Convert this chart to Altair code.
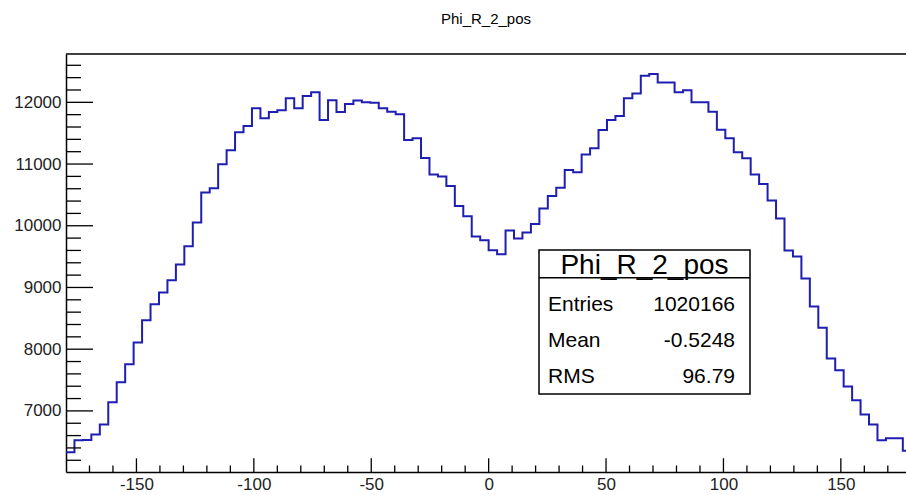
import altair as alt
import pandas as pd

# ---------------- data ----------------
hist_title = "Phi_R_2_pos"
x_lo, x_hi = -180.0, 180.0
n_bins = 100
counts = [
    6330, 6524, 6530, 6618, 6780, 7140, 7465, 7755, 8108, 8468,
    8727, 8919, 9116, 9373, 9667, 10054, 10540, 10608, 10997, 11224,
    11515, 11616, 11902, 11740, 11842, 11872, 12064, 11902, 12102, 12165,
    11713, 12032, 11845, 11972, 12030, 12000, 11995, 11902, 11848, 11808,
    11389, 11416, 11096, 10829, 10800, 10643, 10319, 10156, 9827, 9767,
    9605, 9540, 9924, 9794, 9892, 10027, 10281, 10481, 10616, 10902,
    10865, 11156, 11254, 11551, 11713, 11778, 12064, 12145, 12430, 12457,
    12320, 12320, 12165, 12195, 12000, 12000, 11848, 11556, 11416, 11192,
    11092, 10832, 10675, 10410, 10119, 9600, 9502, 9146, 8690, 8346,
    7848, 7659, 7395, 7173, 6940, 6778, 6524, 6556, 6556, 6356,
]
x_label_values = [-150, -100, -50, 0, 50, 100, 150]
x_minor_values = [-170, -160, -140, -130, -120, -110, -90, -80, -70, -60,
                  -40, -30, -20, -10, 10, 20, 30, 40, 60, 70, 80, 90,
                  110, 120, 130, 140, 160, 170]
y_label_values = [7000, 8000, 9000, 10000, 11000, 12000]
y_minor_values = [6200, 6400, 6600, 6800, 7200, 7400, 7600, 7800, 8200, 8400,
                  8600, 8800, 9200, 9400, 9600, 9800, 10200, 10400, 10600,
                  10800, 11200, 11400, 11600, 11800, 12200, 12400, 12600]
stats_labels = ["Entries", "Mean", "RMS"]
stats_values = ["1020166", "-0.5248", "96.79"]

bin_w = (x_hi - x_lo) / n_bins
edges = [x_lo + i * bin_w for i in range(n_bins + 1)]
hist = pd.DataFrame({"x": edges, "y": counts + [counts[-1]]})

# ---------------- layout ----------------
W, H = 840, 418
FONT = "Liberation Sans"
LINE_COLOR = "#1e1eb0"
LABEL_COLOR = "#222222"
x_scale = alt.Scale(domain=[-180, 177.75], nice=False, zero=False)
y_scale = alt.Scale(domain=[6010, 12783], nice=False, zero=False)

x_axis = alt.Axis(
    values=x_label_values, labelExpr="'' + datum.value", ticks=False,
    domain=True, domainColor="black", domainWidth=1.5, grid=False,
    title=None, labelFontSize=17, labelFont=FONT, labelColor=LABEL_COLOR,
    labelPadding=4, labelOverlap=False, labelFlush=False)
y_axis = alt.Axis(
    values=y_label_values, labelExpr="'' + datum.value", ticks=False,
    domain=True, domainColor="black", domainWidth=1.5, grid=False,
    title=None, labelFontSize=17, labelFont=FONT, labelColor=LABEL_COLOR,
    labelPadding=5, labelOverlap=False)

line = alt.Chart(hist).mark_line(
    interpolate="step-after", color=LINE_COLOR, strokeWidth=2, clip=True
).encode(
    x=alt.X("x:Q", scale=x_scale, axis=x_axis, title=None),
    y=alt.Y("y:Q", scale=y_scale, axis=y_axis, title=None),
)

def yticks(vals, length):
    return alt.Chart(pd.DataFrame({"y": vals})).mark_rule(
        color="black", strokeWidth=1.3).encode(
        y=alt.Y("y:Q", scale=y_scale, axis=y_axis, title=None),
        x=alt.value(0), x2=alt.value(length))

def xticks(vals, length):
    return alt.Chart(pd.DataFrame({"x": vals})).mark_rule(
        color="black", strokeWidth=1.3).encode(
        x=alt.X("x:Q", scale=x_scale, axis=x_axis, title=None),
        y=alt.value(H), y2=alt.value(H - length))

one = pd.DataFrame({"a": [0]})
top_frame = alt.Chart(one).mark_rule(color="black", strokeWidth=1.5).encode(
    x=alt.value(0), x2=alt.value(W), y=alt.value(0))

title = alt.Chart(one).mark_text(
    align="center", baseline="middle", fontSize=15, font=FONT, color="black"
).encode(x=alt.value(420), y=alt.value(-35), text=alt.value(hist_title))

BX0, BX1, BY0, BY1, BYH = 473, 684, 196, 340, 223.7
box = alt.Chart(one).mark_rect(fill="white", stroke="black", strokeWidth=1.5).encode(
    x=alt.value(BX0), x2=alt.value(BX1), y=alt.value(BY0), y2=alt.value(BY1))
box_sep = alt.Chart(one).mark_rule(color="black", strokeWidth=1.5).encode(
    x=alt.value(BX0), x2=alt.value(BX1), y=alt.value(BYH))
box_title = alt.Chart(one).mark_text(
    align="center", baseline="alphabetic", fontSize=28, font=FONT, color="black"
).encode(x=alt.value((BX0 + BX1) / 2), y=alt.value(220), text=alt.value(hist_title))

row_base = [257, 293, 329]
stat_layers = []
for lab, val, yb in zip(stats_labels, stats_values, row_base):
    stat_layers.append(alt.Chart(one).mark_text(
        align="left", baseline="alphabetic", fontSize=21, font=FONT, color="black"
    ).encode(x=alt.value(482), y=alt.value(yb), text=alt.value(lab)))
    stat_layers.append(alt.Chart(one).mark_text(
        align="right", baseline="alphabetic", fontSize=21, font=FONT, color="black"
    ).encode(x=alt.value(669), y=alt.value(yb), text=alt.value(val)))

chart = alt.layer(
    line,
    yticks(y_label_values, 27), yticks(y_minor_values, 15),
    xticks(x_label_values, 13.7), xticks(x_minor_values, 6.5),
    top_frame, title, box, box_sep, box_title, *stat_layers,
).properties(
    width=W, height=H,
    padding={"left": 66, "top": 54, "right": 0, "bottom": 23},
    autosize=alt.AutoSizeParams(type="none"),
    background="white",
).configure_view(stroke=None)

chart.save("out.html", embed_options={"renderer": "svg", "actions": False})
